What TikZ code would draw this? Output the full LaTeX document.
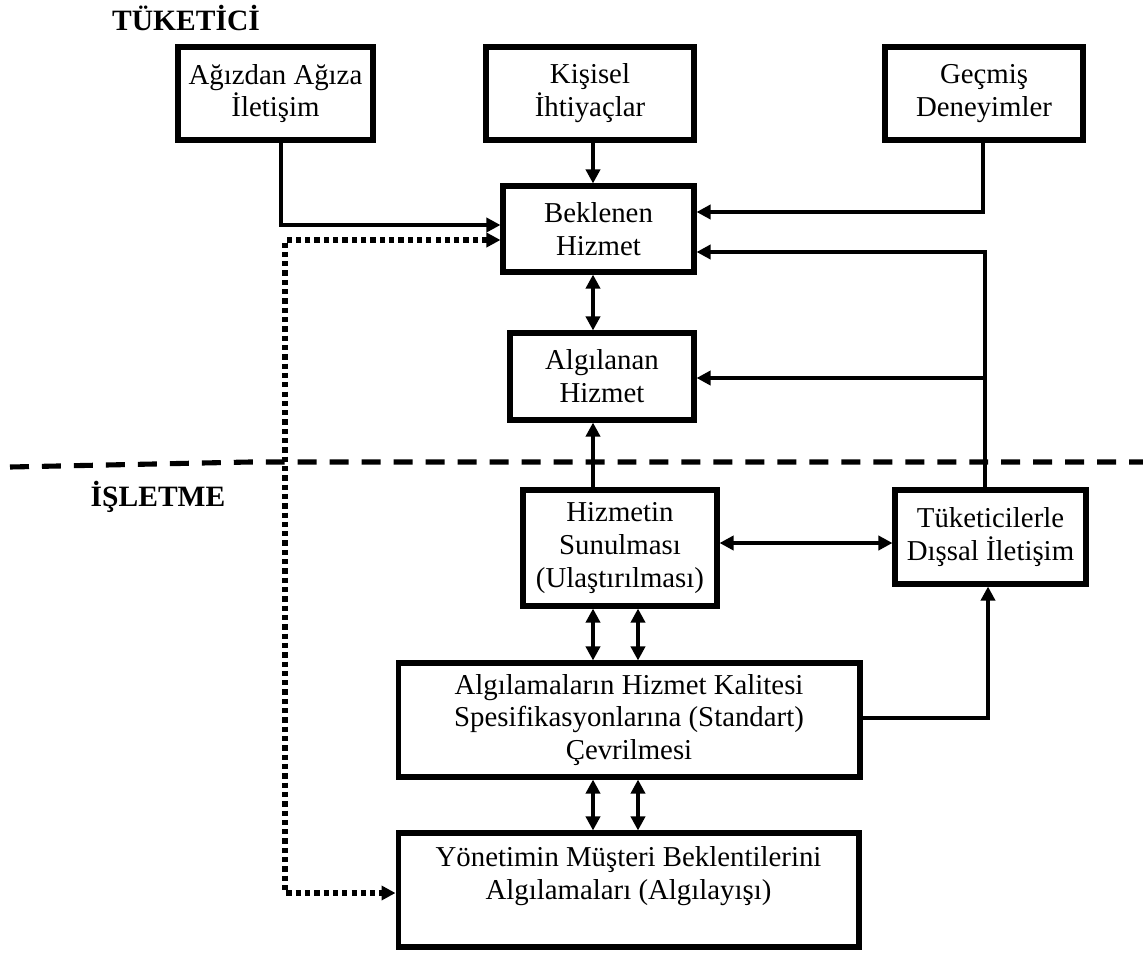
\documentclass[tikz,border=0pt]{standalone}
\usepackage{fontspec}
\setmainfont{Liberation Serif}
\usetikzlibrary{arrows.meta}
\begin{document}
\begin{tikzpicture}[x=0.02cm,y=-0.02cm,
  box/.style={draw,line width=2.9pt,inner sep=0pt,align=center,font=\fontsize{16.4}{18.7}\selectfont},
  lbl/.style={font=\fontsize{16.8}{18.7}\selectfont\bfseries},
  conn/.style={line width=2.2pt,-{Triangle[length=0.28cm,width=0.28cm]}},
  dconn/.style={line width=2.2pt,{Triangle[length=0.28cm,width=0.28cm]}-{Triangle[length=0.28cm,width=0.28cm]}},
  dotconn/.style={line width=3pt,dash pattern=on 3pt off 2.3pt,{Triangle[length=0.28cm,width=0.28cm]}-{Triangle[length=0.28cm,width=0.28cm]}},
  divider/.style={line width=2.9pt,dash pattern=on 10.8pt off 7.4pt}]
\useasboundingbox (0,0) rectangle (1143,954);

% labels
\node[lbl] (tuk) at (186,18) {TÜKETİCİ};
\node[lbl] (isl) at (158,497) {İŞLETME};

% boxes
\node[box,minimum width=3.9cm,minimum height=1.86cm] (A) at (275.5,93.5) {Ağızdan Ağıza\\İletişim};
\node[box,minimum width=4.16cm,minimum height=1.86cm] (K) at (590,93.5) {Kişisel\\İhtiyaçlar};
\node[box,minimum width=3.96cm,minimum height=1.86cm] (G) at (984,93.5) {Geçmiş\\Deneyimler};
\node[box,minimum width=3.82cm,minimum height=1.72cm] (B) at (598.5,229) {Beklenen\\Hizmet};
\node[box,minimum width=3.68cm,minimum height=1.74cm] (AH) at (602,376.5) {Algılanan\\Hizmet};
\node[box,minimum width=3.88cm,minimum height=2.32cm] (H) at (620,548) {Hizmetin\\Sunulması\\(Ulaştırılması)};
\node[box,minimum width=3.82cm,minimum height=1.88cm] (T) at (990.5,537) {Tüketicilerle\\Dışsal İletişim};
\node[box,minimum width=9.24cm,minimum height=2.28cm] (S) at (629,720) {Algılamaların Hizmet Kalitesi\\Spesifikasyonlarına (Standart)\\Çevrilmesi};
\node[box,minimum width=9.22cm,minimum height=2.28cm] (Y) at (628.5,890) {};
\node[align=center,inner sep=0pt,font=\fontsize{16.4}{18.7}\selectfont] (Yt) at (628.5,876) {Yönetimin Müşteri Beklentilerini\\Algılamaları (Algılayışı)};

% divider
\coordinate (dv1) at (10,467);
\coordinate (dv2) at (250,462);
\coordinate (dv3) at (1143,462);
\draw[divider] (dv1) -- (dv2) -- (dv3);

% helper coordinates
\coordinate (a1) at (281,225);
\coordinate (d1) at (285,240);
\coordinate (d2) at (285,893);
\coordinate (k1) at (593,0);
\coordinate (g1) at (983,212);
\coordinate (t1) at (985,252);
\coordinate (t2) at (985,378);
\coordinate (h1) at (0,543);
\coordinate (c1) at (593,0);
\coordinate (c2) at (638,0);
\coordinate (s1) at (988,718);

% connectors
\draw[conn] (A.south -| a1) -- (a1) -- (B.west |- a1);
\draw[dotconn] (B.west |- d1) -- (d1) -- (d2) -- (Y.west |- d2);
\draw[conn] (K.south -| k1) -- (B.north -| k1);
\draw[conn] (G.south -| g1) -- (g1) -- (B.east |- g1);
\draw[conn] (T.north -| t1) -- (t1) -- (B.east |- t1);
\draw[conn] (t2) -- (AH.east |- t2);
\draw[dconn] (B.south -| c1) -- (AH.north -| c1);
\draw[conn] (H.north -| c1) -- (AH.south -| c1);
\draw[dconn] (H.east |- h1) -- (T.west |- h1);
\draw[dconn] (H.south -| c1) -- (S.north -| c1);
\draw[dconn] (H.south -| c2) -- (S.north -| c2);
\draw[conn] (S.east |- s1) -- (s1) -- (T.south -| s1);
\draw[dconn] (S.south -| c1) -- (Y.north -| c1);
\draw[dconn] (S.south -| c2) -- (Y.north -| c2);
\end{tikzpicture}
\end{document}
